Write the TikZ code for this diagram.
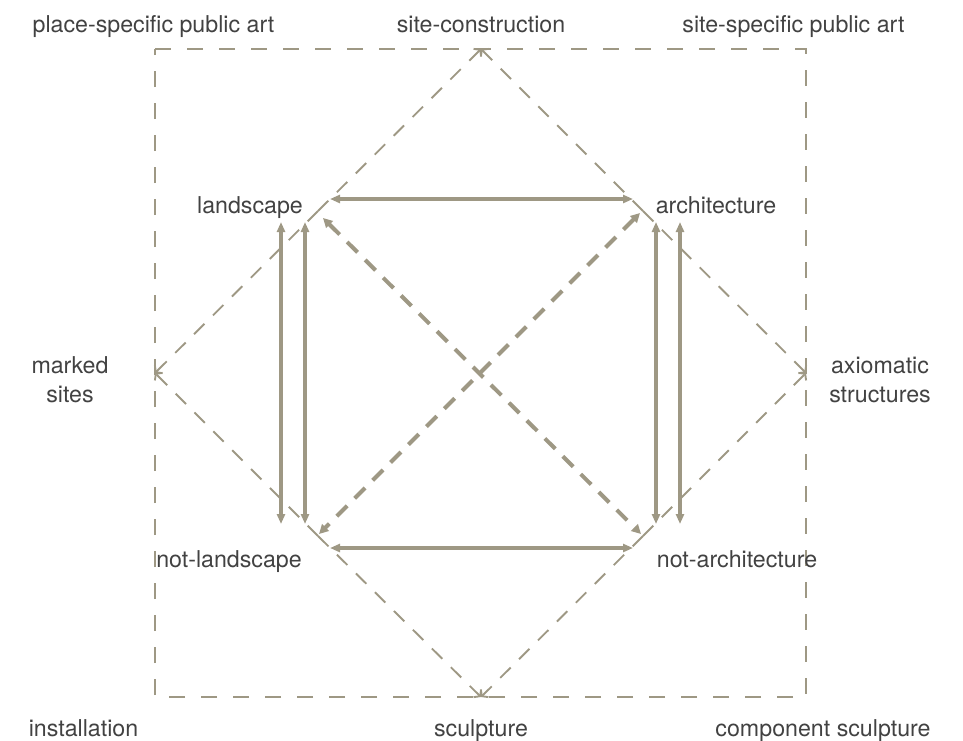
\documentclass[tikz,border=0pt]{standalone}
\usepackage{fontspec}
\setmainfont{TeX Gyre Heros}
\usetikzlibrary{arrows.meta}
\definecolor{lin}{RGB}{158,152,132}
\definecolor{txt}{RGB}{66,66,66}
\begin{document}
\begin{tikzpicture}[x=0.75pt,y=-0.75pt,
  lbl/.style={text=txt,font=\fontsize{17.4}{21.5}\selectfont,inner sep=0pt,anchor=base},
  frame/.style={draw=lin,line width=1.5pt,dash pattern=on 12pt off 12pt},
  thin/.style={draw=lin,line width=1.4pt,dash pattern=on 11pt off 9pt,-{Straight Barb[length=3pt,width=8pt]}},
  thick/.style={draw=lin,line width=3pt,dash pattern=on 11pt off 8pt,{Triangle[length=7pt,width=7pt]}-{Triangle[length=7pt,width=7pt]}},
  solid2/.style={draw=lin,line width=2.5pt,{Triangle[length=7.5pt,width=6pt]}-{Triangle[length=7.5pt,width=6pt]}}]
\useasboundingbox (0,0) rectangle (963,740);
% frame
\coordinate (TL) at (155,49);
\coordinate (TR) at (806,49);
\coordinate (BR) at (806,697);
\coordinate (BL) at (155,697);
\draw[frame] (TL) -- (TR) -- (BR) -- (BL) -- cycle;
% diamond apexes and inner corners
\coordinate (top) at (481,49);
\coordinate (bot) at (481,697);
\coordinate (lft) at (155,373);
\coordinate (rgt) at (806,373);
\coordinate (cL) at (318,211);
\coordinate (cA) at (643,211);
\coordinate (cNL) at (318,536);
\coordinate (cNA) at (643,536);
\draw[thin] (cL) -- (top);
\draw[thin] (cA) -- (top);
\draw[thin] (cL) -- (lft);
\draw[thin] (cNL) -- (lft);
\draw[thin] (cA) -- (rgt);
\draw[thin] (cNA) -- (rgt);
\draw[thin] (cNL) -- (bot);
\draw[thin] (cNA) -- (bot);
% solid arrows endpoints
\coordinate (h1a) at (330,199);
\coordinate (h1b) at (633,199);
\coordinate (h2a) at (330,548);
\coordinate (h2b) at (633,548);
\coordinate (v1a) at (281,222);
\coordinate (v1b) at (281,524);
\coordinate (v2a) at (305,222);
\coordinate (v2b) at (305,524);
\coordinate (v3a) at (656,222);
\coordinate (v3b) at (656,524);
\coordinate (v4a) at (680,222);
\coordinate (v4b) at (680,524);
\draw[solid2] (h1a) -- (h1b);
\draw[solid2] (h2a) -- (h2b);
\draw[solid2] (v1a) -- (v1b);
\draw[solid2] (v2a) -- (v2b);
\draw[solid2] (v3a) -- (v3b);
\draw[solid2] (v4a) -- (v4b);
% thick dashed diagonals
\coordinate (d1a) at (323,218);
\coordinate (d1b) at (641,534);
\coordinate (d2a) at (640,213);
\coordinate (d2b) at (319,534);
\draw[thick] (d1a) -- (d1b);
\draw[thick] (d2a) -- (d2b);
% labels
\node[lbl] (psp) at (153.5,32) {place-specific public art};
\node[lbl] (sc) at (481,32) {site-construction};
\node[lbl] (ssp) at (793.5,32) {site-specific public art};
\node[lbl] (land) at (250,213) {landscape};
\node[lbl] (arch) at (716,213) {architecture};
\node[lbl,align=center,anchor=center] (ms) at (70,380) {marked\\sites};
\node[lbl,align=center,anchor=center] (ax) at (880,380) {axiomatic\\structures};
\node[lbl] (nl) at (229,567) {not-landscape};
\node[lbl] (na) at (737,567) {not-architecture};
\node[lbl] (inst) at (83.5,736) {installation};
\node[lbl] (scu) at (481,736) {sculpture};
\node[lbl] (comp) at (823,736) {component sculpture};
\end{tikzpicture}
\end{document}
